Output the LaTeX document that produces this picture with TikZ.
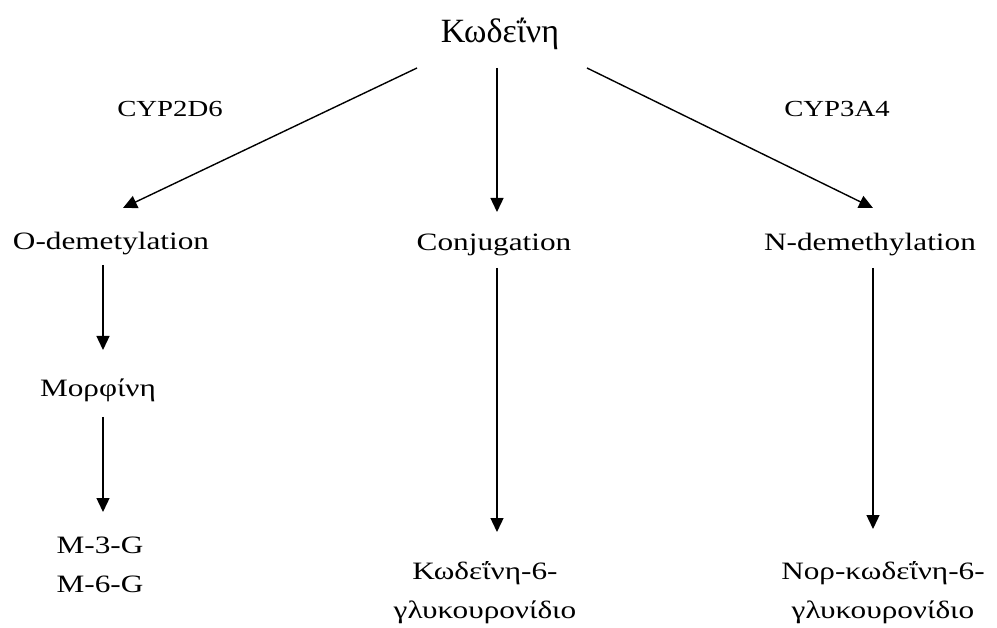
\documentclass[tikz,border=0pt]{standalone}
\usepackage{fontspec}
\setmainfont{Liberation Serif}[FakeStretch=1.25]
\newfontfamily\titlefont{Liberation Serif}[FakeStretch=1.0]
\usepackage{tikz}
\usetikzlibrary{arrows.meta}

\begin{document}
\begin{tikzpicture}[->,>={Triangle[length=14pt,width=13pt]},line width=1.4pt,
                    x=1pt, y=-1pt,
                    every node/.style={inner sep=0pt, anchor=base, align=center,
                                       font=\fontsize{25}{39}\selectfont}]
  \tikzstyle{enzyme}=[font=\fontsize{23}{26}\selectfont]
  \useasboundingbox (0,0) rectangle (997,628);

  \node[font=\titlefont\fontsize{34}{38}\selectfont] (cod) at (500,43) {Κωδεΐνη};
  \node[enzyme] (cyp2d6) at (170,117) {CYP2D6};
  \node[enzyme] (cyp3a4) at (837,117) {CYP3A4};

  \node (odem)  at (111,250) {O-demetylation};
  \node (conj)  at (494,251) {Conjugation};
  \node (ndem)  at (870,251) {N-demethylation};
  \node (morph) at (98,397)  {Μορφίνη};
  \node (mg)    at (100,592) {M-3-G\\M-6-G};
  \node (codg)  at (485,618) {Κωδεΐνη-6-\\γλυκουρονίδιο};
  \node (norg)  at (883,618) {Νορ-κωδεΐνη-6-\\γλυκουρονίδιο};

  \draw ([shift={(-83,25)}]cod.base)  -- ([shift={(12,-42)}]odem.base);
  \draw ([shift={(-3,25)}]cod.base)   -- ([shift={(3,-39)}]conj.base);
  \draw ([shift={(87,25)}]cod.base)   -- ([shift={(3,-43)}]ndem.base);
  \draw ([shift={(-8,15)}]odem.base)  -- ([shift={(5,-47)}]morph.base);
  \draw ([shift={(5,20)}]morph.base)  -- ([shift={(3,-80)}]mg.base);
  \draw ([shift={(3,17)}]conj.base)   -- ([shift={(12,-86)}]codg.base);
  \draw ([shift={(3,17)}]ndem.base)   -- ([shift={(-10,-89)}]norg.base);
\end{tikzpicture}
\end{document}
